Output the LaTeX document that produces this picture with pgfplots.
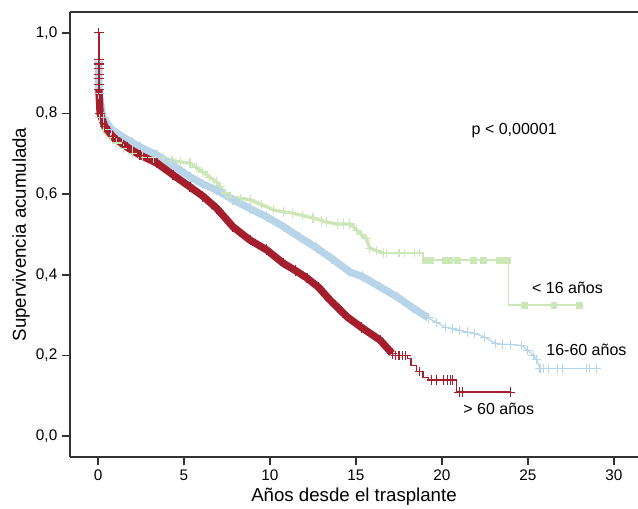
\documentclass[border=0pt]{standalone}
\usepackage{pgfplots}
\pgfplotsset{compat=1.18}
\usepackage{fontspec}
\setmainfont{Liberation Sans}
\usetikzlibrary{calc}

\definecolor{kmred}{RGB}{165,30,45}
\definecolor{kmblue}{RGB}{184,212,232}
\definecolor{kmgreen}{RGB}{204,230,184}
\definecolor{axgray}{RGB}{50,50,50}

\begin{document}
\begin{tikzpicture}
\begin{axis}[
  scale only axis,
  width=426pt, height=333.75pt,
  xmin=-1.63, xmax=31.4, ymin=-0.052, ymax=1.052,
  axis lines*=left,
  axis line style={axgray, line width=1.1pt},
  tick style={axgray, line width=1.1pt},
  tick align=outside, major tick length=6pt,
  xtick={0,5,...,30}, ytick={0,0.2,...,1.0},
  /pgf/number format/.cd, fixed, fixed zerofill, precision=1, use comma, assume math mode=true,
  /pgfplots/.cd,
  xticklabel style={/pgf/number format/precision=0, /pgf/number format/fixed zerofill=false},
  tick label style={font=\fontsize{11.5}{13}\selectfont},
  every axis y label/.style={at={(axis description cs:-0.0863,0.5)}, rotate=90, anchor=center,
    font=\fontsize{14}{16}\selectfont},
  every axis x label/.style={at={(axis description cs:0.5,-0.0899)}, anchor=center,
    font=\fontsize{14}{16}\selectfont},
  xlabel={Años desde el trasplante},
  ylabel={Supervivencia acumulada},
  clip=false,
]
\coordinate (ll) at (rel axis cs:0,0);
\coordinate (ur) at (rel axis cs:1,1);
\draw[axgray, line width=1.1pt] (rel axis cs:0,1) -- (rel axis cs:1,1);

% < 16 anos
\addplot[kmgreen, line width=2.5pt, mark=+, mark size=3.5pt, mark options={line width=0.8pt}] coordinates {
  (0.05,0.85)(0.1,0.79)(0.3,0.76)(0.7,0.74)(1.1,0.727)(1.5,0.714)(2.0,0.702)(2.6,0.692)(3.2,0.690)
  (3.8,0.690)(4.3,0.684)(4.8,0.680)(5.35,0.677)(5.7,0.667)(6.1,0.655)(6.5,0.642)(6.9,0.630)(7.1,0.618)
  (7.4,0.603)(7.7,0.593)(8.3,0.590)(8.84,0.586)(9.5,0.574)(10.2,0.561)(10.8,0.556)(11.3,0.553)(11.9,0.547)
  (12.5,0.541)(13.0,0.535)(13.3,0.531)(13.9,0.526)(14.3,0.526)(14.65,0.526)(15.05,0.511)(15.3,0.500)
  (15.6,0.490)(15.8,0.466)(16.2,0.460)(16.6,0.454)
};
\addplot[kmgreen, line width=1pt, const plot] coordinates {
  (16.6,0.454)(18.9,0.437)(23.85,0.325)(28.0,0.325)
};
\addplot[kmgreen, only marks, mark=+, mark size=3pt, mark options={line width=0.8pt}] coordinates {
  (16.8,0.454)(17.5,0.454)(17.8,0.454)(18.4,0.454)(18.7,0.454)
};
\addplot[kmgreen, only marks, mark=square*, mark size=2.2pt] coordinates {
  (19.0,0.437)(19.3,0.437)(20.2,0.437)(20.4,0.437)(20.9,0.437)(21.8,0.437)(22.4,0.437)
  (23.3,0.437)(23.5,0.437)(23.8,0.437)(24.8,0.325)(26.5,0.325)(28.0,0.325)
};

% 16-60 anos
\addplot[kmblue, line width=5.5pt, mark=+, mark size=4pt, mark options={line width=0.8pt}] coordinates {
  (0.05,0.93)(0.05,0.85)(0.3,0.79)(0.8,0.76)(1.45,0.742)(2.0,0.728)(2.44,0.717)(3.43,0.697)(4.36,0.672)
  (5.35,0.643)(6.1,0.625)(6.9,0.610)(7.85,0.586)(8.8,0.565)(9.8,0.544)(10.8,0.519)(11.7,0.494)
  (12.7,0.467)(13.6,0.440)(14.65,0.407)(15.4,0.395)(16.4,0.370)(17.4,0.345)(18.3,0.318)(19.2,0.293)
};
\addplot[kmblue, line width=1pt, mark=+, mark size=3.5pt, mark options={line width=0.8pt}] coordinates {
  (19.2,0.293)(19.7,0.282)(20.2,0.270)(20.6,0.266)(21.0,0.262)(21.5,0.258)(21.9,0.255)(22.5,0.245)
  (23.1,0.230)(23.5,0.228)(24.0,0.227)(24.6,0.225)(25.0,0.213)(25.3,0.200)(25.5,0.190)(25.7,0.168)
};
\addplot[kmblue, line width=1pt, mark=+, mark size=3.5pt, mark options={line width=0.8pt}] coordinates {
  (25.7,0.168)(25.9,0.168)(26.2,0.168)(26.7,0.168)(27.0,0.168)(28.4,0.168)(28.6,0.168)(29.0,0.168)
};

% > 60 anos
\addplot[kmred, line width=1pt, mark=+, mark size=3.5pt, mark options={line width=0.8pt}] coordinates {
  (0.05,1.0)(0.05,0.935)(0.05,0.923)(0.05,0.911)(0.05,0.898)(0.05,0.886)(0.05,0.871)(0.05,0.859)
};
\addplot[kmred, line width=5.5pt, mark=+, mark size=4pt, mark options={line width=0.8pt}] coordinates {
  (0.05,0.86)(0.12,0.80)(0.4,0.767)(0.87,0.742)(1.69,0.717)(2.44,0.697)(3.43,0.677)(4.36,0.648)
  (5.35,0.618)(6.1,0.595)(6.9,0.565)(7.85,0.519)(8.84,0.486)(9.8,0.462)(10.76,0.429)(11.5,0.410)
  (12.15,0.392)(12.8,0.370)(13.5,0.337)(14.5,0.295)(15.3,0.270)(16.4,0.238)(17.1,0.205)
};
\addplot[kmred, line width=1pt, const plot] coordinates {
  (17.1,0.200)(18.0,0.193)(18.2,0.175)(18.5,0.160)(18.9,0.146)(19.2,0.139)(20.85,0.109)(24.0,0.109)
};
\addplot[kmred, only marks, mark=+, mark size=3.5pt, mark options={line width=0.8pt}] coordinates {
  (17.3,0.200)(17.5,0.200)(17.7,0.200)(17.9,0.200)(18.7,0.160)(19.4,0.139)(19.7,0.139)(20.1,0.139)
  (20.3,0.139)(20.5,0.139)(20.6,0.139)(21.0,0.109)(21.2,0.109)(24.0,0.109)
};

\node[font=\fontsize{12}{14}\selectfont] at (axis cs:24.2,0.757) {p < 0,00001};
\node[font=\fontsize{12}{14}\selectfont] at (axis cs:27.3,0.367) {< 16 años};
\node[font=\fontsize{12}{14}\selectfont] at (axis cs:28.4,0.213) {16-60 años};
\node[font=\fontsize{12}{14}\selectfont] at (axis cs:23.3,0.067) {> 60 años};
\end{axis}
\pgfresetboundingbox
\path ($(ll)+(-52.5pt,-38.25pt)$) rectangle ($(ur)+(0pt,9pt)$);
\end{tikzpicture}
\end{document}
